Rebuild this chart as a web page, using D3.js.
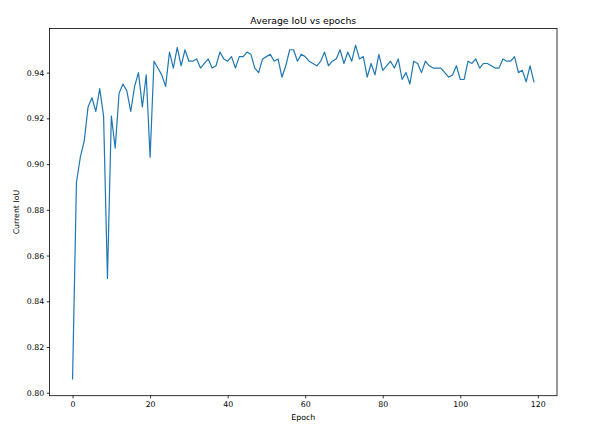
<!DOCTYPE html>
<html>
<head>
<meta charset="utf-8">
<script src="https://d3js.org/d3.v7.min.js"></script>
<style>
  body { margin: 0; background: #fff; }
  svg { display: block; }
  text { font-family: "DejaVu Sans", sans-serif; fill: #000; }
</style>
</head>
<body>
<script>
// epochs 0..119 and the average IoU
var epochs = d3.range(120);
var iou = [
  0.806, 0.892, 0.903, 0.910, 0.925, 0.929, 0.923, 0.933, 0.921, 0.850,
  0.921, 0.907, 0.931, 0.935, 0.932, 0.923, 0.934, 0.940, 0.925, 0.939,
  0.903, 0.945, 0.942, 0.939, 0.934, 0.949, 0.942, 0.951, 0.943, 0.950,
  0.945, 0.945, 0.946, 0.942, 0.944, 0.946, 0.942, 0.943, 0.949, 0.946,
  0.945, 0.947, 0.942, 0.947, 0.947, 0.949, 0.948, 0.942, 0.940, 0.946,
  0.947, 0.948, 0.945, 0.946, 0.938, 0.943, 0.950, 0.950, 0.945, 0.948,
  0.947, 0.945, 0.944, 0.943, 0.945, 0.949, 0.943, 0.945, 0.946, 0.950,
  0.944, 0.949, 0.945, 0.952, 0.946, 0.947, 0.938, 0.944, 0.939, 0.948,
  0.941, 0.943, 0.945, 0.942, 0.946, 0.937, 0.940, 0.935, 0.945, 0.944,
  0.940, 0.945, 0.943, 0.942, 0.942, 0.942, 0.940, 0.938, 0.939, 0.943,
  0.937, 0.937, 0.945, 0.944, 0.946, 0.942, 0.944, 0.944, 0.943, 0.942,
  0.942, 0.946, 0.945, 0.945, 0.947, 0.940, 0.941, 0.936, 0.943, 0.936
];
var xTicks = [0, 20, 40, 60, 80, 100, 120];
var yTicks = [0.80, 0.82, 0.84, 0.86, 0.88, 0.90, 0.92, 0.94];

var W = 596, H = 431;
var pL = 49.5, pR = 557, pT = 28.5, pB = 395.7;

var svg = d3.select("body").append("svg")
  .attr("width", W)
  .attr("height", H);

// matplotlib style 5% margins
var xext = d3.extent(epochs), yext = d3.extent(iou);
var xpad = (xext[1] - xext[0]) * 0.05, ypad = (yext[1] - yext[0]) * 0.05;

var x = d3.scaleLinear()
  .domain([xext[0] - xpad, xext[1] + xpad])
  .range([pL, pR]);
var y = d3.scaleLinear()
  .domain([yext[0] - ypad, yext[1] + ypad])
  .range([pB, pT]);

var fs = 7.8;

var xAxis = svg.append("g")
  .attr("transform", "translate(0," + pB + ")")
  .call(d3.axisBottom(x).tickValues(xTicks).tickSize(2.7).tickPadding(2.7).tickSizeOuter(0));
var yAxis = svg.append("g")
  .attr("transform", "translate(" + pL + ",0)")
  .call(d3.axisLeft(y).tickValues(yTicks).tickFormat(d3.format(".2f")).tickSize(2.7).tickPadding(2.7).tickSizeOuter(0));

[xAxis, yAxis].forEach(function(g) {
  g.select(".domain").remove();
  g.selectAll(".tick line").attr("stroke", "#000").attr("stroke-width", 0.8);
  g.selectAll(".tick text")
    .attr("font-family", "DejaVu Sans")
    .attr("font-size", fs)
    .attr("fill", "#000");
});

var line = d3.line()
  .x(function(d, i) { return x(epochs[i]); })
  .y(function(d) { return y(d); });

svg.append("path")
  .datum(iou)
  .attr("d", line)
  .attr("fill", "none")
  .attr("stroke", "#1f77b4")
  .attr("stroke-width", 1.2)
  .attr("stroke-linejoin", "round")
  .attr("stroke-linecap", "square");

// spines
svg.append("rect")
  .attr("x", pL)
  .attr("y", pT)
  .attr("width", pR - pL)
  .attr("height", pB - pT)
  .attr("fill", "none")
  .attr("stroke", "#000")
  .attr("stroke-width", 0.8);

svg.append("text")
  .attr("x", (pL + pR) / 2)
  .attr("y", pT - 5)
  .attr("text-anchor", "middle")
  .attr("font-size", 9.3)
  .text("Average IoU vs epochs");

svg.append("text")
  .attr("x", (pL + pR) / 2)
  .attr("y", 420)
  .attr("text-anchor", "middle")
  .attr("font-size", fs)
  .text("Epoch");

svg.append("text")
  .attr("transform", "translate(19," + (pT + pB) / 2 + ") rotate(-90)")
  .attr("text-anchor", "middle")
  .attr("font-size", fs)
  .text("Current IoU");
</script>
</body>
</html>
